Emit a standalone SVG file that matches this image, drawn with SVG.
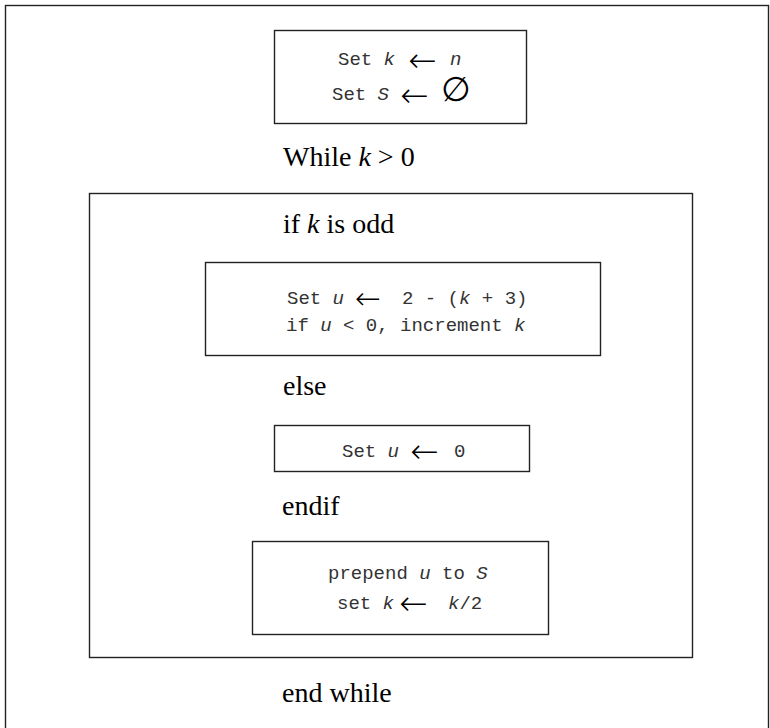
<svg xmlns="http://www.w3.org/2000/svg" width="770" height="728" viewBox="0 0 770 728">
<style>
.box{fill:#fff;stroke:#222;stroke-width:1.4}
.frame{fill:none;stroke:#222;stroke-width:1.4}
.kw{font-family:"Liberation Serif","Times New Roman",serif;font-size:28px;fill:#000}
.kw .v{font-style:italic}
.m{font-family:"Liberation Mono","Courier New",monospace;font-size:19px;fill:#333}
.m .v{font-style:italic}
.ar{font-family:"DejaVu Sans","Liberation Sans",sans-serif;font-weight:200;font-size:34px;fill:#000}
.es{font-family:"DejaVu Sans","Liberation Sans",sans-serif;font-size:34px;fill:#000}
</style>
<rect class="frame" x="5.5" y="5.5" width="763" height="760"/>
<g id="init">
<rect class="box" x="274.5" y="30.5" width="252" height="93"/>
<text class="m" x="338" y="65">Set <tspan class="v">k</tspan></text>
<text class="ar" x="408" y="72">←</text>
<text class="m" x="450" y="65"><tspan class="v">n</tspan></text>
<text class="m" x="332" y="100">Set <tspan class="v">S</tspan></text>
<text class="ar" x="400" y="107">←</text>
<text class="es" x="441" y="101">∅</text>
</g>
<g id="while-label"><text class="kw" x="283" y="166">While <tspan class="v">k</tspan> &gt; 0</text></g>
<g id="while-loop">
<rect class="frame" x="89.5" y="193.5" width="603" height="464"/>
</g>
<g id="if-label"><text class="kw" x="283" y="233">if <tspan class="v">k</tspan> is odd</text></g>
<g id="odd-branch">
<rect class="box" x="205.5" y="262.5" width="395" height="93"/>
<text class="m" x="287" y="304">Set <tspan class="v">u</tspan></text>
<text class="ar" x="355" y="309" style="font-size:31px">←</text>
<text class="m" x="402" y="304">2 - (<tspan class="v">k</tspan> + 3)</text>
<text class="m" x="286" y="331">if <tspan class="v">u</tspan> &lt; 0, increment <tspan class="v">k</tspan></text>
</g>
<g id="else-label"><text class="kw" x="283" y="395">else</text></g>
<g id="even-branch">
<rect class="box" x="274.5" y="425.5" width="255" height="46"/>
<text class="m" x="342" y="457">Set <tspan class="v">u</tspan></text>
<text class="ar" x="410" y="463">←</text>
<text class="m" x="454" y="457">0</text>
</g>
<g id="endif-label"><text class="kw" x="282" y="515">endif</text></g>
<g id="update">
<rect class="box" x="252.5" y="541.5" width="296" height="93"/>
<text class="m" x="328" y="579">prepend <tspan class="v">u</tspan> to <tspan class="v">S</tspan></text>
<text class="m" x="337" y="609">set <tspan class="v">k</tspan></text>
<text class="ar" x="399" y="615">←</text>
<text class="m" x="448" y="609"><tspan class="v">k</tspan>/2</text>
</g>
<g id="endwhile-label"><text class="kw" x="282" y="702">end while</text></g>
</svg>
